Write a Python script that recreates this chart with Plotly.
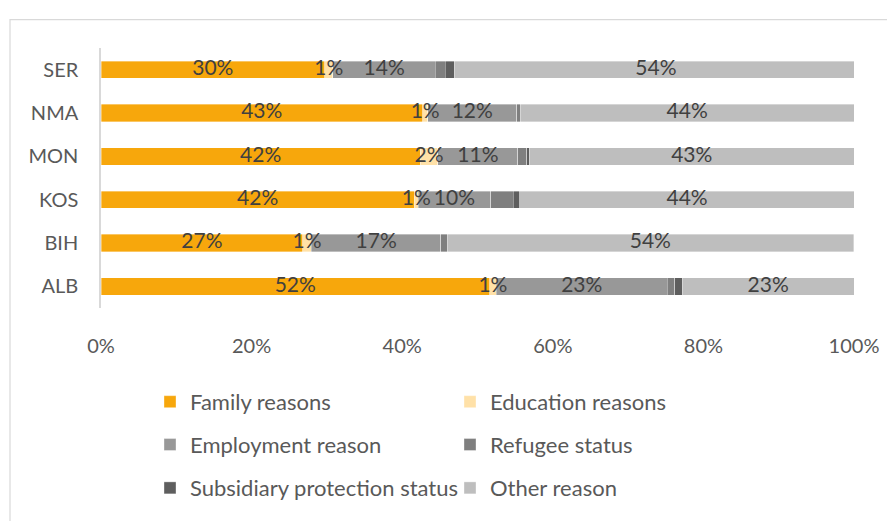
import plotly.graph_objects as go

categories = ["ALB", "BIH", "KOS", "MON", "NMA", "SER"]
series_names = ["Family reasons", "Education reasons", "Employment reason",
                "Refugee status", "Subsidiary protection status", "Other reason"]
family = [51.6, 26.8, 41.6, 42.4, 42.7, 29.7]
education = [0.9, 1.15, 0.53, 2.35, 0.7, 1.1]
employment = [22.7, 17.2, 9.6, 10.6, 11.8, 13.6]
refugee = [1.0, 0.8, 3.0, 1.2, 0.5, 1.3]
subsidiary = [1.0, 0.0, 0.9, 0.35, 0.0, 1.2]
other = [22.8, 54.0, 44.4, 43.1, 44.3, 53.6]
tick_vals = [0, 20, 40, 60, 80, 100]
tick_text = ["0%", "20%", "40%", "60%", "80%", "100%"]

values = [family, education, employment, refugee, subsidiary, other]
colors = ["#F7A70C", "#FFE1A8", "#989898", "#7F7F7F", "#5E5E5E", "#BEBEBE"]
show_labels = [True, True, True, False, False, True]
legend_ids = ["legend", "legend", "legend2", "legend2", "legend3", "legend3"]

FONT = "Lato"
fig = go.Figure()
for name, vals, col, lg in zip(series_names, values, colors, legend_ids):
    fig.add_trace(go.Bar(
        y=categories, x=vals, name=name, orientation="h",
        marker=dict(color=col, line=dict(color="rgba(255,255,255,0.6)", width=0.6)),
        textposition="none",
        legend=lg,
    ))

# data labels drawn on top of all bars, centred on each segment
base = [0.0] * len(categories)
for vals, lab in zip(values, show_labels):
    centers = [b + v / 2.0 for b, v in zip(base, vals)]
    if lab:
        fig.add_trace(go.Scatter(
            x=centers, y=categories, mode="text",
            text=[f"{round(v)}%" for v in vals],
            textposition="middle center",
            textfont=dict(family=FONT, size=21, color="#404040"),
            showlegend=False, hoverinfo="skip", cliponaxis=False,
        ))
    base = [b + v for b, v in zip(base, vals)]

# page body has an 8px margin, so the figure is drawn 8px right/down
OFF = 8
PL, PR, PT, PB = 101, 854, 48, 318   # target plot area in window pixels
W, H = 895 - OFF, 521 - OFF

leg_common = dict(orientation="h", entrywidth=255, entrywidthmode="pixels",
                  font=dict(family=FONT, size=22, color="#595959"),
                  xanchor="left", yanchor="middle", bgcolor="rgba(0,0,0,0)",
                  borderwidth=0, traceorder="normal", itemclick=False)

def ypos(py):
    return (PB - py) / float(PB - PT)

def xpos(px):
    return (px - PL) / float(PR - PL)

fig.update_layout(
    width=W, height=H,
    margin=dict(l=PL - OFF, r=W - (PR - OFF), t=PT - OFF, b=H - (PB - OFF)),
    barmode="stack", bargap=0.6,
    plot_bgcolor="white", paper_bgcolor="white",
    showlegend=True,
    legend=dict(**leg_common, x=xpos(150), y=ypos(415.5)),
    legend2=dict(**leg_common, x=xpos(150), y=ypos(460)),
    legend3=dict(**leg_common, x=xpos(150), y=ypos(505)),
    xaxis=dict(range=[0, 100], tickvals=tick_vals, ticktext=tick_text,
               showgrid=False, zeroline=False, showline=False,
               tickfont=dict(family=FONT, size=20, color="#595959"),
               ticklabelstandoff=24, fixedrange=True),
    yaxis=dict(showgrid=False, zeroline=False, showline=True, linecolor="#D9D9D9",
               linewidth=1.5, tickfont=dict(family=FONT, size=20, color="#595959"),
               ticklabelstandoff=17, fixedrange=True),
    shapes=[dict(type="rect", xref="paper", yref="paper",
                 x0=xpos(10), x1=1.3, y0=-1.0, y1=ypos(18.5),
                 line=dict(color="#D9D9D9", width=1.2), fillcolor="rgba(0,0,0,0)",
                 layer="below")],
)
fig.write_html("out.html")
